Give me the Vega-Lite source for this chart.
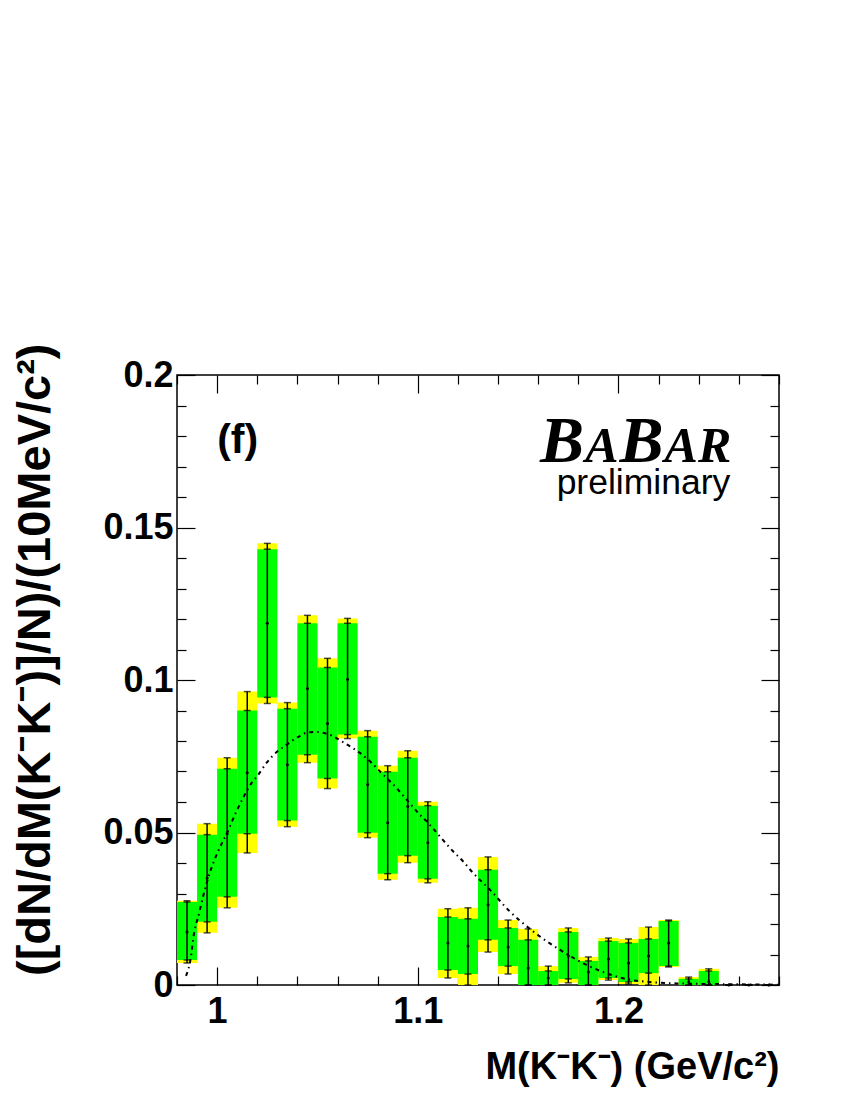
{
  "$schema": "https://vega.github.io/schema/vega-lite/v6.json",
  "width": 602,
  "height": 610,
  "autosize": {"type": "none"},
  "padding": {"left": 177, "top": 375, "right": 71, "bottom": 115},
  "background": "white",
  "config": {
    "view": {"stroke": "black", "strokeWidth": 1.5},
    "axis": {"grid": false, "domain": false, "labelFlush": false, "labelOverlap": false, "labelBound": false, "tickColor": "black", "tickWidth": 1.2, "labelColor": "black", "titleColor": "black"}
  },
  "datasets": {
    "bins": [
      {"m": 0.985, "m_lo": 0.98, "m_hi": 0.99, "val": 0.0174, "stat_lo": 0.0082, "stat_hi": 0.0272, "tot_lo": 0.0072, "tot_hi": 0.0276},
      {"m": 0.995, "m_lo": 0.99, "m_hi": 1.0, "val": 0.0351, "stat_lo": 0.0207, "stat_hi": 0.0493, "tot_lo": 0.0171, "tot_hi": 0.0529},
      {"m": 1.005, "m_lo": 1.0, "m_hi": 1.01, "val": 0.0496, "stat_lo": 0.0289, "stat_hi": 0.0709, "tot_lo": 0.0253, "tot_hi": 0.0745},
      {"m": 1.015, "m_lo": 1.01, "m_hi": 1.02, "val": 0.0696, "stat_lo": 0.0496, "stat_hi": 0.09, "tot_lo": 0.0433, "tot_hi": 0.0962},
      {"m": 1.025, "m_lo": 1.02, "m_hi": 1.03, "val": 0.1186, "stat_lo": 0.0943, "stat_hi": 0.1429, "tot_lo": 0.0923, "tot_hi": 0.1448},
      {"m": 1.035, "m_lo": 1.03, "m_hi": 1.04, "val": 0.0722, "stat_lo": 0.0539, "stat_hi": 0.0906, "tot_lo": 0.0519, "tot_hi": 0.0926},
      {"m": 1.045, "m_lo": 1.04, "m_hi": 1.05, "val": 0.0972, "stat_lo": 0.0755, "stat_hi": 0.1186, "tot_lo": 0.0729, "tot_hi": 0.1212},
      {"m": 1.055, "m_lo": 1.05, "m_hi": 1.06, "val": 0.0857, "stat_lo": 0.0677, "stat_hi": 0.1041, "tot_lo": 0.0644, "tot_hi": 0.1071},
      {"m": 1.065, "m_lo": 1.06, "m_hi": 1.07, "val": 0.1002, "stat_lo": 0.0821, "stat_hi": 0.1186, "tot_lo": 0.0808, "tot_hi": 0.1202},
      {"m": 1.075, "m_lo": 1.07, "m_hi": 1.08, "val": 0.0657, "stat_lo": 0.0499, "stat_hi": 0.0814, "tot_lo": 0.0483, "tot_hi": 0.0834},
      {"m": 1.085, "m_lo": 1.08, "m_hi": 1.09, "val": 0.0532, "stat_lo": 0.0365, "stat_hi": 0.0699, "tot_lo": 0.0345, "tot_hi": 0.0719},
      {"m": 1.095, "m_lo": 1.09, "m_hi": 1.1, "val": 0.0585, "stat_lo": 0.0424, "stat_hi": 0.0745, "tot_lo": 0.0401, "tot_hi": 0.0768},
      {"m": 1.105, "m_lo": 1.1, "m_hi": 1.11, "val": 0.0466, "stat_lo": 0.0348, "stat_hi": 0.0588, "tot_lo": 0.0335, "tot_hi": 0.0601},
      {"m": 1.115, "m_lo": 1.11, "m_hi": 1.12, "val": 0.0138, "stat_lo": 0.0049, "stat_hi": 0.0223, "tot_lo": 0.0023, "tot_hi": 0.025},
      {"m": 1.125, "m_lo": 1.12, "m_hi": 1.13, "val": 0.0128, "stat_lo": 0.0036, "stat_hi": 0.0217, "tot_lo": 0.0, "tot_hi": 0.0253},
      {"m": 1.135, "m_lo": 1.13, "m_hi": 1.14, "val": 0.0263, "stat_lo": 0.0148, "stat_hi": 0.0378, "tot_lo": 0.0108, "tot_hi": 0.042},
      {"m": 1.145, "m_lo": 1.14, "m_hi": 1.15, "val": 0.0125, "stat_lo": 0.0062, "stat_hi": 0.0187, "tot_lo": 0.0036, "tot_hi": 0.0213},
      {"m": 1.155, "m_lo": 1.15, "m_hi": 1.16, "val": 0.0056, "stat_lo": 0.0, "stat_hi": 0.0148, "tot_lo": 0.0, "tot_hi": 0.0184},
      {"m": 1.165, "m_lo": 1.16, "m_hi": 1.17, "val": 0.0023, "stat_lo": 0.0, "stat_hi": 0.0046, "tot_lo": 0.0, "tot_hi": 0.0062},
      {"m": 1.175, "m_lo": 1.17, "m_hi": 1.18, "val": 0.0095, "stat_lo": 0.002, "stat_hi": 0.0174, "tot_lo": 0.0007, "tot_hi": 0.0187},
      {"m": 1.185, "m_lo": 1.18, "m_hi": 1.19, "val": 0.0043, "stat_lo": 0.0, "stat_hi": 0.0079, "tot_lo": 0.0, "tot_hi": 0.0092},
      {"m": 1.195, "m_lo": 1.19, "m_hi": 1.2, "val": 0.0085, "stat_lo": 0.0023, "stat_hi": 0.0144, "tot_lo": 0.0016, "tot_hi": 0.0154},
      {"m": 1.205, "m_lo": 1.2, "m_hi": 1.21, "val": 0.0072, "stat_lo": 0.001, "stat_hi": 0.0138, "tot_lo": 0.0003, "tot_hi": 0.0151},
      {"m": 1.215, "m_lo": 1.21, "m_hi": 1.22, "val": 0.0095, "stat_lo": 0.0039, "stat_hi": 0.0151, "tot_lo": 0.0, "tot_hi": 0.019},
      {"m": 1.225, "m_lo": 1.22, "m_hi": 1.23, "val": 0.0138, "stat_lo": 0.0062, "stat_hi": 0.021, "tot_lo": 0.0059, "tot_hi": 0.0213},
      {"m": 1.235, "m_lo": 1.23, "m_hi": 1.24, "val": 0.001, "stat_lo": 0.0, "stat_hi": 0.002, "tot_lo": 0.0, "tot_hi": 0.0026},
      {"m": 1.245, "m_lo": 1.24, "m_hi": 1.25, "val": 0.0011, "stat_lo": 0.0, "stat_hi": 0.0046, "tot_lo": 0.0, "tot_hi": 0.0053},
      {"m": 1.255, "m_lo": 1.25, "m_hi": 1.26, "val": 0.0, "stat_lo": 0.0, "stat_hi": 0.0, "tot_lo": 0.0, "tot_hi": 0.0},
      {"m": 1.265, "m_lo": 1.26, "m_hi": 1.27, "val": 0.0, "stat_lo": 0.0, "stat_hi": 0.0, "tot_lo": 0.0, "tot_hi": 0.0},
      {"m": 1.275, "m_lo": 1.27, "m_hi": 1.28, "val": 0.0, "stat_lo": 0.0, "stat_hi": 0.0, "tot_lo": 0.0, "tot_hi": 0.0}
    ],
    "fit": [
      {"mass": 0.9845, "f": 0.003}, {"mass": 0.9872, "f": 0.0104}, {"mass": 0.988, "f": 0.0148},
      {"mass": 0.991, "f": 0.0235}, {"mass": 0.993, "f": 0.029}, {"mass": 0.9963, "f": 0.0367},
      {"mass": 1.0008, "f": 0.0443}, {"mass": 1.0049, "f": 0.0498}, {"mass": 1.0096, "f": 0.0569},
      {"mass": 1.0129, "f": 0.0613}, {"mass": 1.0171, "f": 0.0662}, {"mass": 1.0199, "f": 0.0684},
      {"mass": 1.0246, "f": 0.0728}, {"mass": 1.0304, "f": 0.0768}, {"mass": 1.0337, "f": 0.0783},
      {"mass": 1.0371, "f": 0.08}, {"mass": 1.0403, "f": 0.0813}, {"mass": 1.0445, "f": 0.0827},
      {"mass": 1.0487, "f": 0.083}, {"mass": 1.0528, "f": 0.0827}, {"mass": 1.057, "f": 0.0818},
      {"mass": 1.0628, "f": 0.0796}, {"mass": 1.0675, "f": 0.0777}, {"mass": 1.0711, "f": 0.0761},
      {"mass": 1.077, "f": 0.0728}, {"mass": 1.0827, "f": 0.069}, {"mass": 1.0894, "f": 0.0646},
      {"mass": 1.0944, "f": 0.0608}, {"mass": 1.1002, "f": 0.0564}, {"mass": 1.106, "f": 0.0525},
      {"mass": 1.111, "f": 0.0487}, {"mass": 1.1169, "f": 0.0443}, {"mass": 1.1226, "f": 0.0405},
      {"mass": 1.1276, "f": 0.0367}, {"mass": 1.136, "f": 0.0312}, {"mass": 1.1451, "f": 0.0246},
      {"mass": 1.1576, "f": 0.0175}, {"mass": 1.1709, "f": 0.0115}, {"mass": 1.1825, "f": 0.0071},
      {"mass": 1.1942, "f": 0.0038}, {"mass": 1.205, "f": 0.0018}, {"mass": 1.215, "f": 0.001},
      {"mass": 1.23, "f": 0.0005}, {"mass": 1.25, "f": 0.0003}, {"mass": 1.28, "f": 0.0001}
    ]
  },
  "resolve": {"axis": {"x": "independent", "y": "independent"}},
  "layer": [
    {
      "data": {"name": "bins"},
      "mark": {"type": "rect", "color": "#FFFF00"},
      "encoding": {
        "x": {"field": "m_lo", "type": "quantitative", "scale": {"domain": [0.98, 1.28], "nice": false, "zero": false},
          "axis": {"orient": "bottom", "values": [0.98, 1.0, 1.02, 1.04, 1.06, 1.08, 1.1, 1.12, 1.14, 1.16, 1.18, 1.2, 1.22, 1.24, 1.26, 1.28],
            "tickSize": {"condition": {"test": "abs(datum.value*10 - round(datum.value*10)) < 0.000001", "value": -18}, "value": -9},
            "labelExpr": "abs(datum.value*10 - round(datum.value*10)) < 0.000001 ? toString(round(datum.value*10)/10) : ''",
            "labelFont": "Liberation Sans", "labelFontWeight": "bold", "labelFontSize": 36, "labelBaseline": "top", "labelPadding": 27,
            "title": "M(K⁻K⁻) (GeV/c²)", "titleFont": "Liberation Sans", "titleFontWeight": "bold", "titleFontSize": 38,
            "titleAnchor": "end", "titleAlign": "right", "titleBaseline": "alphabetic", "titleX": 602, "titleY": 93}},
        "x2": {"field": "m_hi"},
        "y": {"field": "tot_lo", "type": "quantitative", "scale": {"domain": [0, 0.2], "nice": false},
          "axis": {"orient": "left", "values": [0, 0.01, 0.02, 0.03, 0.04, 0.05, 0.06, 0.07, 0.08, 0.09, 0.1, 0.11, 0.12, 0.13, 0.14, 0.15, 0.16, 0.17, 0.18, 0.19, 0.2],
            "tickSize": {"condition": {"test": "abs(datum.value*20 - round(datum.value*20)) < 0.000001", "value": -18}, "value": -9},
            "labelExpr": "abs(datum.value*20 - round(datum.value*20)) < 0.000001 ? toString(round(datum.value*100)/100) : ''",
            "labelFont": "Liberation Sans", "labelFontWeight": "bold", "labelFontSize": 36, "labelBaseline": "middle", "labelPadding": 22,
            "title": "([dN/dM(K⁻K⁻)]/N)/(10MeV/c²)", "titleFont": "Liberation Sans", "titleFontWeight": "bold", "titleFontSize": 47,
            "titleAngle": -90, "titleAnchor": "end", "titleAlign": "right", "titleBaseline": "alphabetic", "titleX": -128, "titleY": -32}},
        "y2": {"field": "tot_hi"}
      }
    },
    {
      "data": {"name": "bins"},
      "mark": {"type": "rect", "color": "#00FF00"},
      "encoding": {
        "x": {"field": "m_lo", "type": "quantitative", "axis": null},
        "x2": {"field": "m_hi"},
        "y": {"field": "stat_lo", "type": "quantitative", "axis": null},
        "y2": {"field": "stat_hi"}
      }
    },
    {
      "data": {"name": "bins"},
      "mark": {"type": "rule", "color": "black", "strokeWidth": 1.5},
      "encoding": {
        "x": {"field": "m", "type": "quantitative", "axis": null},
        "y": {"field": "tot_lo", "type": "quantitative", "axis": null},
        "y2": {"field": "tot_hi"}
      }
    },
    {
      "data": {"name": "bins"},
      "transform": [{"fold": ["tot_lo", "tot_hi", "stat_lo", "stat_hi"], "as": ["kind", "edge"]}],
      "mark": {"type": "tick", "orient": "horizontal", "color": "black", "size": 7, "thickness": 1.5},
      "encoding": {
        "x": {"field": "m", "type": "quantitative", "axis": null},
        "y": {"field": "edge", "type": "quantitative", "axis": null}
      }
    },
    {
      "data": {"name": "bins"},
      "mark": {"type": "circle", "color": "black", "size": 9, "opacity": 1},
      "encoding": {
        "x": {"field": "m", "type": "quantitative", "axis": null},
        "y": {"field": "val", "type": "quantitative", "axis": null}
      }
    },
    {
      "data": {"name": "fit"},
      "mark": {"type": "line", "color": "black", "strokeWidth": 2, "strokeDash": [4, 4, 1.5, 4], "interpolate": "monotone"},
      "encoding": {
        "x": {"field": "mass", "type": "quantitative",
          "axis": {"orient": "top", "values": [0.98, 1.0, 1.02, 1.04, 1.06, 1.08, 1.1, 1.12, 1.14, 1.16, 1.18, 1.2, 1.22, 1.24, 1.26, 1.28],
            "tickSize": {"condition": {"test": "abs(datum.value*10 - round(datum.value*10)) < 0.000001", "value": -18}, "value": -9},
            "labels": false, "title": null}},
        "y": {"field": "f", "type": "quantitative",
          "axis": {"orient": "right", "values": [0, 0.01, 0.02, 0.03, 0.04, 0.05, 0.06, 0.07, 0.08, 0.09, 0.1, 0.11, 0.12, 0.13, 0.14, 0.15, 0.16, 0.17, 0.18, 0.19, 0.2],
            "tickSize": {"condition": {"test": "abs(datum.value*20 - round(datum.value*20)) < 0.000001", "value": -18}, "value": -9},
            "labels": false, "title": null}}
      }
    },
    {
      "data": {"values": [{"x": 1.0, "y": 0.1745, "t": "(f)"}]},
      "mark": {"type": "text", "font": "Liberation Sans", "fontWeight": "bold", "fontSize": 41, "align": "left", "baseline": "alphabetic", "color": "black"},
      "encoding": {
        "x": {"field": "x", "type": "quantitative", "axis": null},
        "y": {"field": "y", "type": "quantitative", "axis": null},
        "text": {"field": "t"}
      }
    },
    {
      "data": {"values": [{"x": 1.1609, "y": 0.1715, "t": "B"}, {"x": 1.2005, "y": 0.1715, "t": "B"}]},
      "mark": {"type": "text", "font": "Liberation Serif", "fontWeight": "bold", "fontStyle": "italic", "fontSize": 66, "align": "left", "baseline": "alphabetic", "color": "black"},
      "encoding": {
        "x": {"field": "x", "type": "quantitative", "axis": null},
        "y": {"field": "y", "type": "quantitative", "axis": null},
        "text": {"field": "t"}
      }
    },
    {
      "data": {"values": [{"x": 1.1835, "y": 0.1715, "t": "A"}, {"x": 1.223, "y": 0.1715, "t": "AR"}]},
      "mark": {"type": "text", "font": "Liberation Serif", "fontWeight": "bold", "fontStyle": "italic", "fontSize": 50, "align": "left", "baseline": "alphabetic", "color": "black"},
      "encoding": {
        "x": {"field": "x", "type": "quantitative", "axis": null},
        "y": {"field": "y", "type": "quantitative", "axis": null},
        "text": {"field": "t"}
      }
    },
    {
      "data": {"values": [{"x": 1.2557, "y": 0.161, "t": "preliminary"}]},
      "mark": {"type": "text", "font": "Liberation Sans", "fontSize": 35.5, "align": "right", "baseline": "alphabetic", "color": "black"},
      "encoding": {
        "x": {"field": "x", "type": "quantitative", "axis": null},
        "y": {"field": "y", "type": "quantitative", "axis": null},
        "text": {"field": "t"}
      }
    }
  ]
}
